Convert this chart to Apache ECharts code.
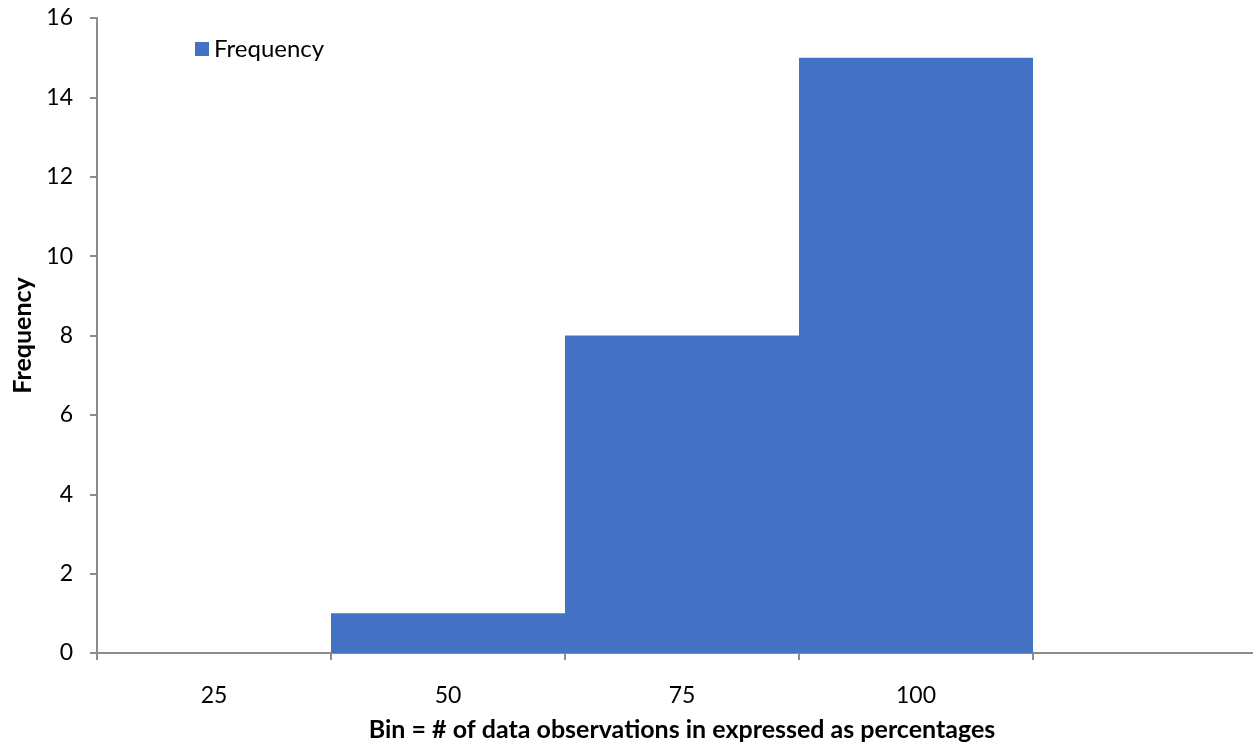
<!DOCTYPE html>
<html>
<head>
<meta charset="utf-8">
<script src="https://cdn.jsdelivr.net/npm/echarts@6/dist/echarts.min.js"></script>
<style>
  html, body { margin: 0; padding: 0; background: #fff; }
  #chart { width: 1253px; height: 743px; }
</style>
</head>
<body>
<div id="chart"></div>
<script>
// Histogram bins (last bin is the empty overflow slot)
const bins = ['25', '50', '75', '100', ''];
const frequency = [0, 1, 8, 15, 0];
const yTicks = { min: 0, max: 16, interval: 2 };

const FONT = 'Lato, "Liberation Sans", sans-serif';
const AXIS_COLOR = '#8c8c8c';

const chart = echarts.init(document.getElementById('chart'));
chart.setOption({
  backgroundColor: '#fff',
  animation: false,
  textStyle: { fontFamily: FONT },
  legend: {
    left: 195,
    top: 37,
    padding: 0,
    itemWidth: 14,
    itemHeight: 14,
    textStyle: { fontSize: 24, color: '#000', fontFamily: FONT },
    data: [{ name: 'Frequency', icon: 'rect' }]
  },
  grid: {
    left: 97, top: 18, width: 1170, height: 635,
    containLabel: false,
    outerBoundsMode: 'none'
  },
  xAxis: {
    type: 'category',
    data: bins,
    name: 'Bin = # of data observations in expressed as percentages',
    nameLocation: 'middle',
    nameGap: 64,
    nameTextStyle: { fontSize: 25, fontWeight: 'bold', color: '#000', fontFamily: FONT },
    axisLine: { lineStyle: { color: AXIS_COLOR, width: 2 } },
    axisTick: { show: true, length: 7, alignWithLabel: false, lineStyle: { color: AXIS_COLOR, width: 2 } },
    axisLabel: { fontSize: 23, color: '#000', margin: 31, fontFamily: FONT },
    splitLine: { show: false }
  },
  yAxis: {
    type: 'value',
    min: yTicks.min,
    max: yTicks.max,
    interval: yTicks.interval,
    name: 'Frequency',
    nameLocation: 'middle',
    nameGap: 61,
    nameRotate: 90,
    nameTextStyle: { fontSize: 25, fontWeight: 'bold', color: '#000', fontFamily: FONT },
    axisLine: { show: true, lineStyle: { color: AXIS_COLOR, width: 2 } },
    axisTick: { show: true, length: 7, lineStyle: { color: AXIS_COLOR, width: 2 } },
    axisLabel: { fontSize: 23, color: '#000', margin: 24, fontFamily: FONT },
    splitLine: { show: false }
  },
  series: [{
    name: 'Frequency',
    type: 'bar',
    data: frequency,
    barCategoryGap: '0%',
    itemStyle: { color: '#4472C4' }
  }]
});
</script>
</body>
</html>
